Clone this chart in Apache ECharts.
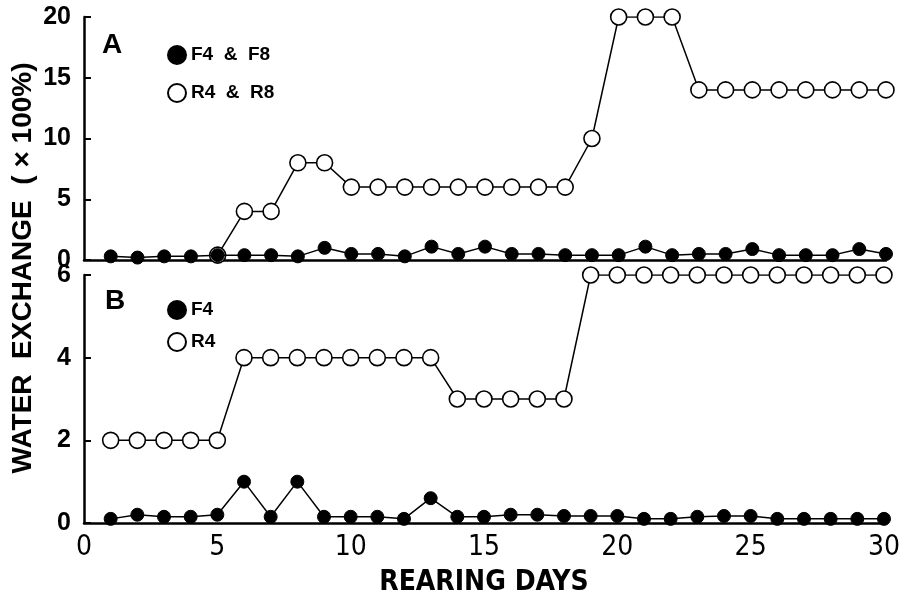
<!DOCTYPE html>
<html>
<head>
<meta charset="utf-8">
<script src="https://cdn.jsdelivr.net/npm/echarts@6/dist/echarts.min.js"></script>
<style>
	html, body { margin: 0; padding: 0; background: #fff; }
	#chart { width: 903px; height: 601px; }
</style>
</head>
<body>
<div id="chart"></div>
<script>
	// rearing days 1..30
	const days = [1,2,3,4,5,6,7,8,9,10,11,12,13,14,15,16,17,18,19,20,21,22,23,24,25,26,27,28,29,30]
	// panel A
	const fA = [0.3,0.2,0.3,0.3,0.4,0.4,0.4,0.3,1.0,0.5,0.5,0.3,1.1,0.5,1.1,0.5,0.5,0.4,0.4,0.4,1.1,0.4,0.5,0.5,0.9,0.4,0.4,0.4,0.9,0.5]
	const rA = [0.3,0.2,0.3,0.3,0.4,4,4,8,8,6,6,6,6,6,6,6,6,6,10,20,20,20,14,14,14,14,14,14,14,14]
	// panel B
	const fB = [0.1,0.2,0.15,0.15,0.2,1.0,0.15,1.0,0.15,0.15,0.15,0.1,0.6,0.15,0.15,0.2,0.2,0.17,0.17,0.17,0.1,0.1,0.15,0.17,0.17,0.1,0.1,0.1,0.1,0.1]
	const rB = [2,2,2,2,2,4,4,4,4,4,4,4,4,3,3,3,3,3,6,6,6,6,6,6,6,6,6,6,6,6]
	const xTicks = [0,5,10,15,20,25,30]

	const pair = (vals) => days.map((d, i) => [d, vals[i]])
	const chart = echarts.init(document.getElementById('chart'))

	const filled = { color: '#000', borderColor: '#000', borderWidth: 1 }
	const open = { color: '#fff', borderColor: '#000', borderWidth: 1.6 }
	const lbl = { fontFamily: 'Liberation Sans', fontWeight: 'bold', color: '#000' }

	const yAxisBase = {
		type: 'value',
		axisLine: { show: true, lineStyle: { color: '#000', width: 2.5 } },
		axisTick: { show: true, inside: true, length: 7, lineStyle: { color: '#000', width: 2 } },
		splitLine: { show: false },
		axisLabel: { ...lbl, fontSize: 25, margin: 13 }
	}
	const xAxisBase = {
		type: 'value', min: 0, max: 30, interval: 5,
		axisLine: { show: true, onZero: false, lineStyle: { color: '#000', width: 2.5 } },
		axisTick: { show: false },
		splitLine: { show: false }
	}
	const legendText = (name) => name.replace(' & ', '  &  ')

	const option = {
		animation: false,
		title: [
			{ text: 'A', left: 97, top: 26, textStyle: { ...lbl, fontSize: 28 } },
			{ text: 'B', left: 100, top: 282, textStyle: { ...lbl, fontSize: 28 } }
		],
		legend: [
			{
				data: ['F4 & F8', 'R4 & R8'], orient: 'vertical', left: 162, top: 40,
				itemWidth: 18, itemHeight: 18, itemGap: 18, icon: 'circle', formatter: legendText,
				textStyle: { ...lbl, fontSize: 19 }
			},
			{
				data: ['F4', 'R4'], orient: 'vertical', left: 162, top: 295,
				itemWidth: 18, itemHeight: 18, itemGap: 12, icon: 'circle',
				textStyle: { ...lbl, fontSize: 19 }
			}
		],
		grid: [
			{ left: 84, right: 17, top: 17, height: 243 },
			{ left: 84, right: 17, top: 275, height: 248 }
		],
		xAxis: [
			{ ...xAxisBase, gridIndex: 0, axisLabel: { show: false } },
			{
				...xAxisBase, gridIndex: 1,
				axisLabel: { fontFamily: 'DejaVu Sans Condensed', fontSize: 28, color: '#000', margin: 11,
					customValues: xTicks },
				name: 'REARING DAYS', nameLocation: 'middle', nameGap: 46,
				nameTextStyle: { fontFamily: 'DejaVu Sans Condensed', fontWeight: 'bold', fontSize: 28, color: '#000' }
			}
		],
		yAxis: [
			{ ...yAxisBase, gridIndex: 0, min: 0, max: 20, interval: 5 },
			{ ...yAxisBase, gridIndex: 1, min: 0, max: 6, interval: 2 }
		],
		graphic: [{
			type: 'text', x: 23, y: 268, rotation: Math.PI / 2,
			style: { text: 'WATER  EXCHANGE  ( × 100%)', ...lbl, fill: '#000', fontSize: 28,
				align: 'center', verticalAlign: 'middle' }
		}],
		series: [
			{ name: 'F4 & F8', type: 'line', xAxisIndex: 0, yAxisIndex: 0, data: pair(fA),
				symbol: 'circle', symbolSize: 13, itemStyle: filled, lineStyle: { color: '#000', width: 1.5 }, z: 3 },
			{ name: 'R4 & R8', type: 'line', xAxisIndex: 0, yAxisIndex: 0, data: pair(rA).slice(4),
				symbol: 'circle', symbolSize: 16, itemStyle: open, lineStyle: { color: '#000', width: 1.5 }, z: 2 },
			{ name: 'F4', type: 'line', xAxisIndex: 1, yAxisIndex: 1, data: pair(fB),
				symbol: 'circle', symbolSize: 13, itemStyle: filled, lineStyle: { color: '#000', width: 1.5 }, z: 3 },
			{ name: 'R4', type: 'line', xAxisIndex: 1, yAxisIndex: 1, data: pair(rB),
				symbol: 'circle', symbolSize: 16, itemStyle: open, lineStyle: { color: '#000', width: 1.5 }, z: 2 }
		]
	}
	chart.setOption(option)
</script>
</body>
</html>
